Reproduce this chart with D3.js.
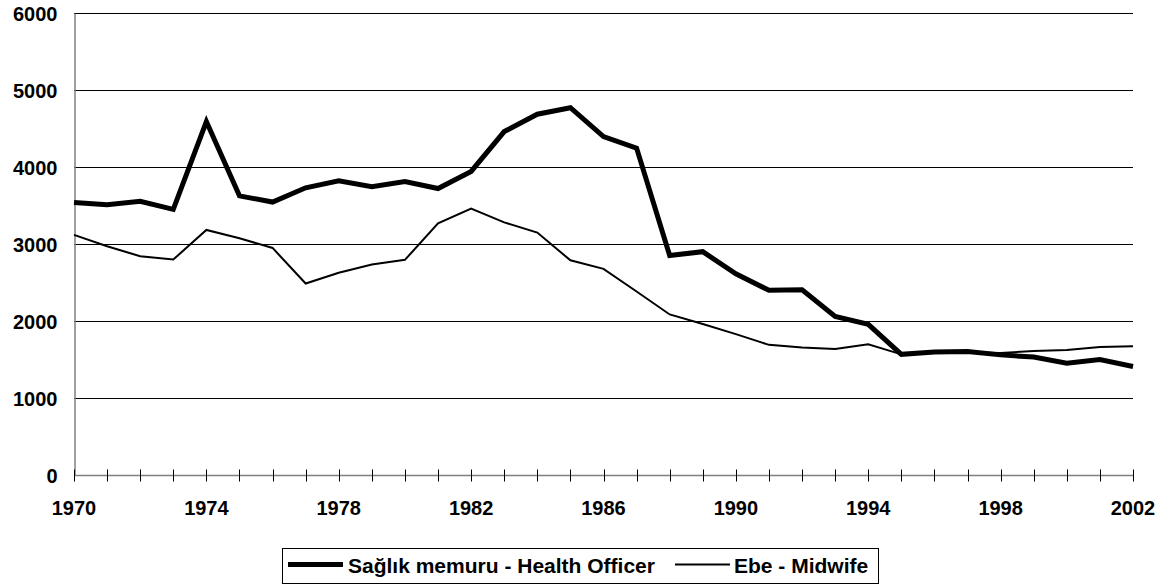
<!DOCTYPE html>
<html>
<head>
<meta charset="utf-8">
<script src="https://cdn.jsdelivr.net/npm/d3@7"></script>
<style>
  body { margin: 0; background: #fff; }
  svg { display: block; }
  svg text { font-family: "Liberation Sans", Arial, sans-serif; font-weight: bold; font-size: 20px; fill: #000; }
  svg .legend text { font-size: 21px; }
</style>
</head>
<body>
<svg id="chart" width="1168" height="587"></svg>
<script>
const years = d3.range(1970, 2003);
const yTicks = [0, 1000, 2000, 3000, 4000, 5000, 6000];
const xLabels = [1970, 1974, 1978, 1982, 1986, 1990, 1994, 1998, 2002];

const healthOfficer = [3540, 3510, 3555, 3450, 4590, 3625, 3545, 3730, 3820, 3745, 3810, 3720,
  3942, 4460, 4685, 4770, 4395, 4245, 2850, 2900, 2613, 2398, 2405, 2060, 1956, 1567,
  1597, 1605, 1560, 1532, 1452, 1499, 1410];
const midwife = [3118, 2970, 2841, 2798, 3183, 3074, 2949, 2487, 2626, 2733, 2794, 3268,
  3459, 3281, 3148, 2788, 2677, 2383, 2085, 1960, 1830, 1690, 1655, 1636, 1697, 1567,
  1590, 1595, 1585, 1610, 1623, 1662, 1671];

const series = [
  { name: "Sağlık memuru - Health Officer", values: healthOfficer, width: 5 },
  { name: "Ebe - Midwife", values: midwife, width: 2 }
];

const svg = d3.select("#chart");
const margin = { left: 74, right: 35, top: 13, bottom: 112 };
const width = 1168, height = 587;

const x = d3.scaleLinear().domain([1970, 2002]).range([margin.left, width - margin.right]);
const y = d3.scaleLinear().domain([0, 6000]).range([height - margin.bottom, margin.top]);

// gridlines
svg.append("g")
  .selectAll("line")
  .data(yTicks.filter(d => d > 0))
  .join("line")
  .attr("x1", margin.left)
  .attr("x2", width - margin.right)
  .attr("y1", d => Math.round(y(d)) + 0.5)
  .attr("y2", d => Math.round(y(d)) + 0.5)
  .attr("stroke", "#000")
  .attr("stroke-width", 1);

// y axis
const yAxis = svg.append("g")
  .attr("transform", `translate(${margin.left + 0.5},0)`)
  .call(d3.axisLeft(y).tickValues(yTicks).tickSize(0).tickPadding(17).tickFormat(d3.format("d")));
yAxis.attr("font-size", null).attr("font-family", null);
yAxis.select(".domain").attr("stroke", "#808080").attr("stroke-width", 1.5);
yAxis.selectAll("text").attr("dy", "0.35em");

// x axis with crossing ticks
const xAxisY = Math.round(y(0)) + 0.5;
const xAxis = svg.append("g").attr("transform", `translate(0,${xAxisY})`);
xAxis.append("line")
  .attr("x1", margin.left).attr("x2", x(2002))
  .attr("stroke", "#808080").attr("stroke-width", 1.5);
xAxis.selectAll("line.tick")
  .data(years)
  .join("line")
  .attr("class", "tick")
  .attr("x1", d => Math.round(x(d)) + 0.5)
  .attr("x2", d => Math.round(x(d)) + 0.5)
  .attr("y1", -6)
  .attr("y2", 6)
  .attr("stroke", "#000");
xAxis.selectAll("text")
  .data(xLabels)
  .join("text")
  .attr("x", d => x(d))
  .attr("y", 39)
  .attr("text-anchor", "middle")
  .text(d => d);

// lines
const line = d3.line()
  .x((d, i) => x(years[i]))
  .y(d => y(d));

svg.append("g")
  .selectAll("path")
  .data(series)
  .join("path")
  .attr("d", d => line(d.values))
  .attr("fill", "none")
  .attr("stroke", "#000")
  .attr("stroke-width", d => d.width)
  .attr("stroke-linejoin", "miter");

// legend
const legend = svg.append("g").attr("class", "legend").attr("transform", "translate(282,548)");
legend.append("rect")
  .attr("x", 0.5).attr("y", 0.5)
  .attr("width", 596).attr("height", 35)
  .attr("fill", "#fff").attr("stroke", "#000");

const legendItems = [
  { s: series[0], lx: 6, tx: 66 },
  { s: series[1], lx: 393, tx: 452 }
];
legendItems.forEach(item => {
  legend.append("line")
    .attr("x1", item.lx).attr("x2", item.lx + 55)
    .attr("y1", 16.5).attr("y2", 16.5)
    .attr("stroke", "#000")
    .attr("stroke-width", item.s.width);
  legend.append("text")
    .attr("x", item.tx)
    .attr("y", 24.5)
    .text(item.s.name);
});
</script>
</body>
</html>
